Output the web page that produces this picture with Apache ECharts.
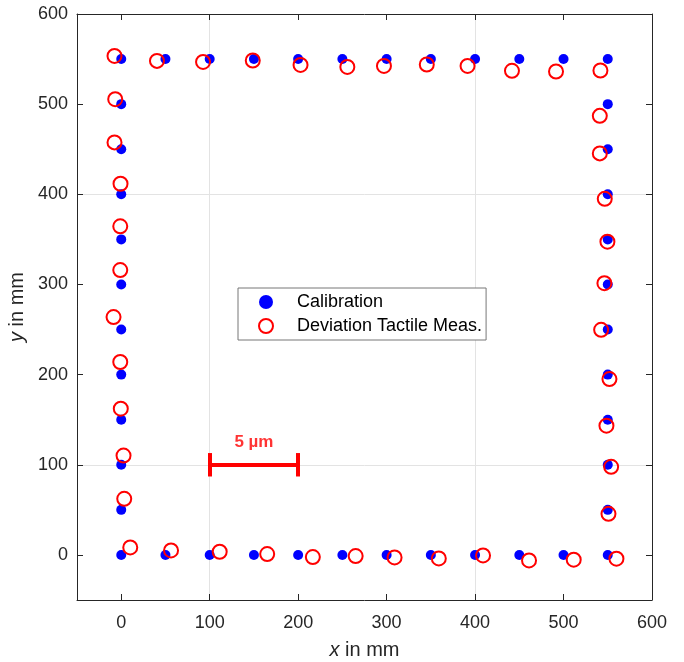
<!DOCTYPE html>
<html>
<head>
<meta charset="utf-8">
<script src="https://cdn.jsdelivr.net/npm/echarts@6/dist/echarts.min.js"></script>
<style>
  html, body { margin: 0; padding: 0; background: #fff; }
  #main { width: 684px; height: 662px; }
</style>
</head>
<body>
<div id="main"></div>
<script>
// calibration grid points (left side up, top row, right side down, bottom row)
var calibX = [0, 0, 0, 0, 0, 0, 0, 0, 0, 0, 0, 0,
  50, 100, 150, 200, 250, 300, 350, 400, 450, 500, 550,
  550, 550, 550, 550, 550, 550, 550, 550, 550, 550, 550,
  500, 450, 400, 350, 300, 250, 200, 150, 100, 50];
var calibY = [0, 50, 100, 150, 200, 250, 300, 350, 400, 450, 500, 550,
  550, 550, 550, 550, 550, 550, 550, 550, 550, 550, 550,
  500, 450, 400, 350, 300, 250, 200, 150, 100, 50, 0,
  0, 0, 0, 0, 0, 0, 0, 0, 0, 0];

// scaled deviation of the tactile measurement
var measX = [10.2, 3.4, 2.6, -0.5, -1.1, -8.7, -1.1, -1.1, -0.8, -7.6, -6.8, -7.6,
  40.4, 92.5, 148.7, 202.7, 255.6, 297, 345.4, 391.5, 441.7, 491.5, 541.7,
  541, 541, 546.6, 549.6, 546.2, 542.5, 551.9, 548.5, 553.8, 550.8, 559.8,
  511.5, 461, 409, 359, 309, 265, 216.6, 165, 111.3, 56.3];
var measY = [8.3, 62.2, 110.2, 162.2, 214, 263.8, 316, 364.5, 411.7, 457.6, 505.5, 553.5,
  548, 546.8, 548.4, 543.5, 541.3, 542.4, 544, 542.4, 537, 536.2, 537.3,
  487, 445.4, 395, 347.5, 301.4, 249.7, 195.1, 143.4, 97.7, 45.6, -4.2,
  -5.3, -6.1, -0.6, -3.9, -2.8, -1.3, -2.4, 0.9, 3.5, 5];

var tickValues = [0, 100, 200, 300, 400, 500, 600];

// scale bar: 100 mm on the plot = 5 µm deviation
var barStart = [100, 100];
var barEnd = [200, 100];
var capHalf = 13;
var barLabel = '5 µm';

function zip(xs, ys) {
  return xs.map(function (x, i) { return [x, ys[i]]; });
}

var chart = echarts.init(document.getElementById('main'));
var font = 'Liberation Sans, Arial, sans-serif';
var ink = '#262626';

function makeAxis(pos, withLabels, name, gap, margin) {
  var ax = {
    type: 'value',
    position: pos,
    min: -50,
    max: 600,
    interval: 50,
    axisLine: { show: true, onZero: false, lineStyle: { color: ink, width: 1 } },
    axisTick: { show: true, inside: true, length: 6, customValues: tickValues, lineStyle: { color: ink } },
    axisLabel: { show: withLabels, customValues: tickValues, color: ink, fontSize: 18, margin: margin },
    splitLine: { show: false }
  };
  if (withLabels) {
    ax.name = name;
    ax.nameLocation = 'middle';
    ax.nameGap = gap;
    ax.nameTextStyle = { color: ink, fontSize: 20, rich: { i: { fontStyle: 'italic', fontSize: 20, color: ink } } };
    ax.splitLine = { show: true, lineStyle: { color: ['rgba(0,0,0,0)', '#e3e3e3', 'rgba(0,0,0,0)'], width: 1 } };
  }
  return ax;
}

var option = {
  animation: false,
  textStyle: { fontFamily: font },
  grid: { left: 77, right: 32, top: 14, bottom: 62, outerBoundsMode: 'none', containLabel: false },
  xAxis: [makeAxis('bottom', true, '{i|x} in mm', 40, 14), makeAxis('top', false)],
  yAxis: [makeAxis('left', true, '{i|y} in mm', 47, 9), makeAxis('right', false)],
  legend: {
    orient: 'vertical',
    left: 238,
    top: 288,
    padding: [5, 4, 5, 20],
    itemGap: 6,
    itemWidth: 14,
    itemHeight: 14,
    backgroundColor: '#fff',
    borderColor: '#777',
    borderWidth: 1,
    borderRadius: 0,
    textStyle: { fontSize: 18, color: '#000', padding: [0, 0, 0, 19] },
    data: [
      { name: 'Calibration', icon: 'circle', itemStyle: { color: '#0000ff' } },
      { name: 'Deviation Tactile Meas.', icon: 'circle',
        itemStyle: { color: '#fff', borderColor: '#ff0000', borderWidth: 2 } }
    ]
  },
  series: [
    {
      name: 'Calibration',
      type: 'scatter',
      symbol: 'circle',
      symbolSize: 10,
      itemStyle: { color: '#0000ff', opacity: 1 },
      data: zip(calibX, calibY),
      z: 2
    },
    {
      name: 'Deviation Tactile Meas.',
      type: 'scatter',
      symbol: 'circle',
      symbolSize: 14,
      itemStyle: { color: 'rgba(0,0,0,0)', borderColor: '#ff0000', borderWidth: 2, opacity: 1 },
      data: zip(measX, measY),
      z: 3
    },
    {
      type: 'lines',
      coordinateSystem: 'cartesian2d',
      lineStyle: { color: '#ff0000', width: 4, opacity: 1 },
      data: [
        { coords: [barStart, barEnd] },
        { coords: [[barStart[0], barStart[1] - capHalf], [barStart[0], barStart[1] + capHalf]] },
        { coords: [[barEnd[0], barEnd[1] - capHalf], [barEnd[0], barEnd[1] + capHalf]] }
      ],
      z: 4
    },
    {
      type: 'scatter',
      symbolSize: 0,
      silent: true,
      data: [[(barStart[0] + barEnd[0]) / 2, barStart[1] + 25]],
      label: {
        show: true,
        position: 'inside',
        formatter: barLabel,
        color: '#ff0000',
        fontSize: 17,
        fontWeight: 'bold'
      },
      z: 4
    }
  ]
};

chart.setOption(option);
</script>
</body>
</html>
